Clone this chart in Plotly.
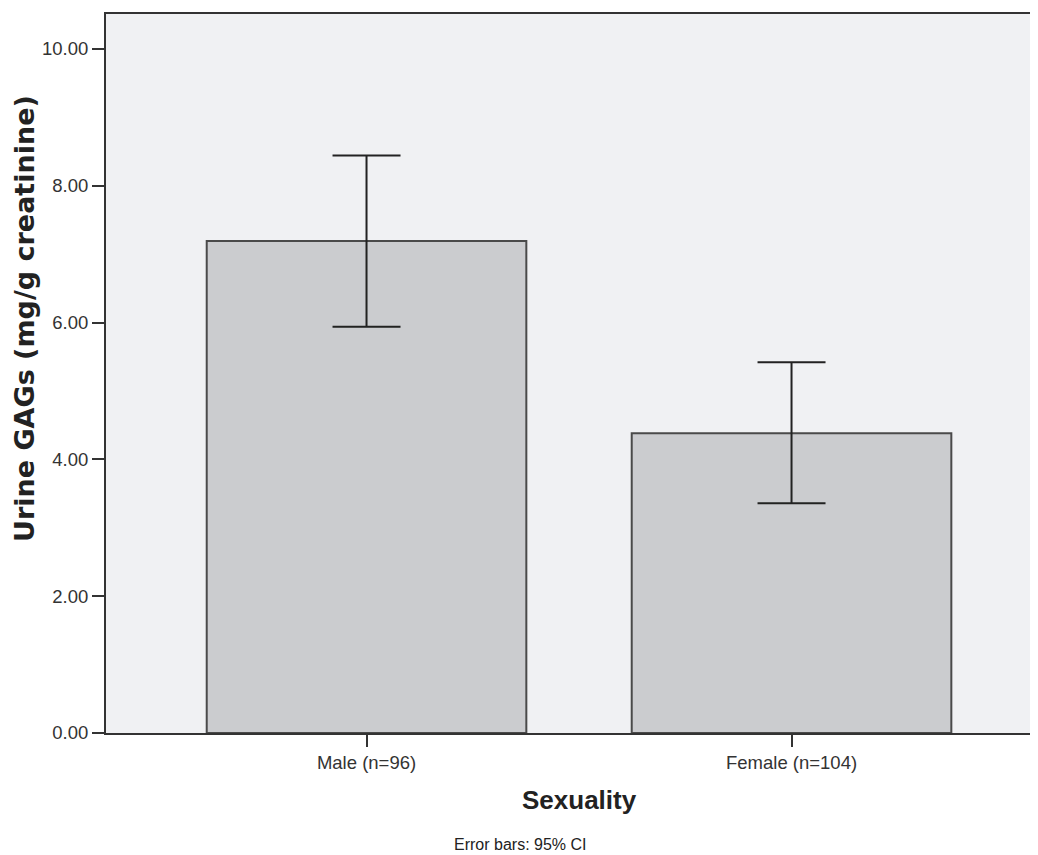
import plotly.graph_objects as go

categories = ["Male (n=96)", "Female (n=104)"]
means = [7.19, 4.38]
ci_upper = [8.44, 5.42]
ci_lower = [5.94, 3.36]
y_ticks = [0, 2, 4, 6, 8, 10]

err_plus = [u - m for u, m in zip(ci_upper, means)]
err_minus = [m - l for m, l in zip(means, ci_lower)]

FONT = "Liberation Sans, Arial, sans-serif"

# page has an 8px body margin; figure is sized/offset to compensate
OFF = 8
W, H = 1038, 855 - OFF
L, T, B_PAGE = 106, 14, 733
R_PAGE = 1046
PW = R_PAGE - L
PH = B_PAGE - T

def px(xp):
    return (xp - L) / PW

def py(yp):
    return (B_PAGE - yp) / PH

x_lo = -0.613
x_hi = x_lo + PW / 425.0

fig = go.Figure()
fig.add_trace(go.Bar(
    x=categories, y=means, width=0.752,
    marker=dict(color="#CBCCCF", line=dict(color="#4a4a4a", width=2)),
    error_y=dict(type="data", array=err_plus, arrayminus=err_minus,
                 color="#222222", thickness=2, width=34),
    showlegend=False,
))

fig.update_layout(
    width=W, height=H,
    margin=dict(l=L - OFF, r=W - (R_PAGE - OFF), t=T - OFF, b=H - (B_PAGE - OFF)),
    paper_bgcolor="white",
    plot_bgcolor="#F0F1F3",
    font=dict(family=FONT, color="#333333"),
    xaxis=dict(
        type="category", range=[x_lo, x_hi],
        showline=True, linecolor="#333333", linewidth=2, mirror=True,
        ticks="outside", ticklen=12, tickwidth=2, tickcolor="#333333",
        tickfont=dict(size=18.5, color="#333333"),
        showgrid=False, zeroline=False,
    ),
    yaxis=dict(
        range=[0, 10.51],
        tickvals=y_ticks, tickformat=".2f",
        showline=True, linecolor="#333333", linewidth=2,
        ticks="outside", ticklen=12, tickwidth=2, tickcolor="#333333",
        tickfont=dict(size=18.5, color="#333333"),
        showgrid=False, zeroline=False,
    ),
    annotations=[
        dict(text="<b>Urine GAGs (mg/g creatinine)</b>", xref="paper", yref="paper",
             x=px(24), y=py(319), textangle=-90,
             xanchor="center", yanchor="middle", showarrow=False,
             font=dict(family="DejaVu Sans, sans-serif", size=27, color="#222222")),
        dict(text="<b>Sexuality</b>", xref="paper", yref="paper",
             x=px(579.5), y=py(800),
             xanchor="center", yanchor="middle", showarrow=False,
             font=dict(family=FONT, size=26, color="#222222")),
        dict(text="Error bars: 95% CI", xref="paper", yref="paper",
             x=px(520), y=py(844),
             xanchor="center", yanchor="middle", showarrow=False,
             font=dict(family=FONT, size=16, color="#222222")),
    ],
)

fig.write_html("out.html")
